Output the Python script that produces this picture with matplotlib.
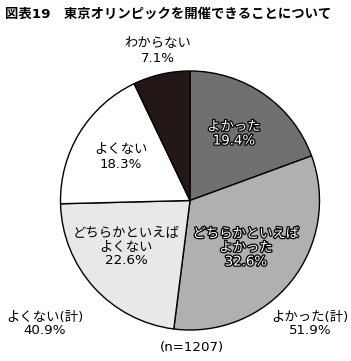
import matplotlib.pyplot as plt
import matplotlib.patheffects as pe

plt.rcParams['font.family'] = ['DejaVu Sans', 'Noto Sans CJK JP']

title = "図表19　東京オリンピックを開催できることについて"
labels = ["よかった", "どちらかといえば\nよかった", "どちらかといえば\nよくない", "よくない", "わからない"]
values = [19.4, 32.6, 22.6, 18.3, 7.1]
colors = ["#707070", "#b0b0b0", "#e8e8e8", "#ffffff", "#231815"]
total_labels = ["よかった(計)", "よくない(計)"]
total_values = [51.9, 40.9]
n_label = "(n=1207)"

W, H = 351, 361
fig = plt.figure(figsize=(W / 100, H / 100), dpi=100)
ax = fig.add_axes([0, 0, 1, 1])

cx, cy, r = 190, H - 200.5, 129.5
ax.pie(values, colors=colors, startangle=90, counterclock=False,
       center=(cx, cy), radius=r, frame=True,
       wedgeprops=dict(edgecolor="black", linewidth=1.0))
ax.set_xlim(0, W)
ax.set_ylim(0, H)
ax.axis("off")

fs = 9.6
outline = [pe.withStroke(linewidth=1.8, foreground="black")]

# label positions in pixel coords (from top)
pos = [(234, 134), (246, 248), (126, 247), (121, 157), (158, 51)]
for i, (lab, v) in enumerate(zip(labels, values)):
    x, y = pos[i]
    txt = f"{lab}\n{v}%"
    if i < 2:
        ax.text(x, H - y, txt, ha="center", va="center", fontsize=fs,
                color="white", linespacing=1.1, path_effects=outline)
    else:
        ax.text(x, H - y, txt, ha="center", va="center", fontsize=fs,
                color="black", linespacing=1.1)

ax.text(310, H - 324, f"{total_labels[0]}\n{total_values[0]}%", ha="center",
        va="center", fontsize=fs, linespacing=1.1)
ax.text(45, H - 324, f"{total_labels[1]}\n{total_values[1]}%", ha="center",
        va="center", fontsize=fs, linespacing=1.1)
ax.text(192, H - 347, n_label, ha="center", va="center", fontsize=fs)

fig.text(5 / W, 1 - 14 / H, title, ha="left", va="center",
         fontsize=9.6, fontweight="bold")

fig.savefig("out.png", dpi=100, facecolor="white")
